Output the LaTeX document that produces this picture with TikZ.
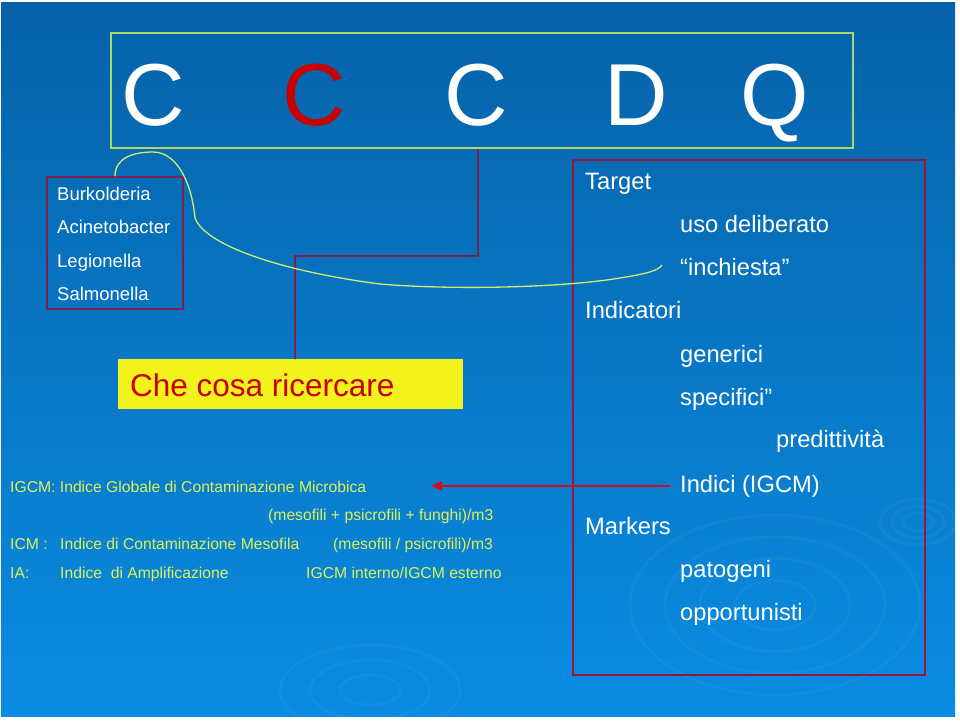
\documentclass[tikz,border=0pt]{standalone}
\usepackage{fontspec}
\setmainfont{Liberation Sans}
\usetikzlibrary{arrows.meta}
\definecolor{bgtop}{RGB}{6,98,168}
\definecolor{bgbot}{RGB}{10,140,226}
\definecolor{frameg}{RGB}{170,215,110}
\definecolor{curveg}{RGB}{205,238,115}
\definecolor{plum}{RGB}{125,32,78}
\definecolor{boxred}{RGB}{150,22,60}
\definecolor{arrred}{RGB}{210,10,30}
\definecolor{lemon}{RGB}{242,242,28}
\definecolor{askred}{RGB}{200,0,0}
\definecolor{lime}{RGB}{222,240,88}
\tikzset{
  txt/.style={inner sep=0pt, anchor=base west, text=white},
  big/.style={inner sep=0pt, anchor=base, text=white, font=\fontsize{88}{88}\selectfont},
  listtxt/.style={txt, font=\fontsize{18.5}{20}\selectfont},
  righttxt/.style={txt, font=\fontsize{23.7}{26}\selectfont},
  idx/.style={txt, text=lime, font=\fontsize{15.7}{17}\selectfont},
  plumbox/.style={draw=plum, line width=1.5pt, inner sep=0pt},
  connector/.style={draw=plum, line width=1.5pt},
  ripple/.style={draw=white, opacity=0.04, line width=3pt}
}
\begin{document}
\begin{tikzpicture}[x=1pt,y=-1pt]
\useasboundingbox (0,0) rectangle (960,720);
\fill[white] (0,0) rectangle (960,720);
\shade[top color=bgtop, bottom color=bgbot] (1,2) rectangle (955,716);
% background ripples
\foreach \r in {40,75,110,145}{
  \draw[ripple] (775,605) ellipse [x radius=\r pt, y radius=0.62*\r pt];
}
\foreach \r in {15,26,38}{
  \draw[ripple] (918,522) ellipse [x radius=\r pt, y radius=0.6*\r pt];
}
\foreach \r in {30,60,90}{
  \draw[ripple] (370,690) ellipse [x radius=\r pt, y radius=0.5*\r pt];
}
% title box
\node[draw=frameg, line width=1.5pt, inner sep=0pt, minimum width=742pt, minimum height=115pt] (title) at (482,90.5) {};
\node[big] (t1) at (153,125) {C};
\node[big, text=askred] (t2) at (314,125) {C};
\node[big] (t3) at (476,125) {C};
\node[big] (t4) at (636,125) {D};
\node[big] (t5) at (775,125) {Q};
% list box
\node[plumbox, minimum width=136pt, minimum height=132pt] (list) at (115,243) {};
\node[listtxt] (l1) at (57,200) {Burkolderia};
\node[listtxt] (l2) at (57,233) {Acinetobacter};
\node[listtxt] (l3) at (57,267) {Legionella};
\node[listtxt] (l4) at (57,300) {Salmonella};
% yellow box
\node[fill=lemon, inner sep=0pt, minimum width=345pt, minimum height=50pt] (ask) at (290.5,384) {};
\node[txt, text=askred, font=\fontsize{31.5}{34}\selectfont] (asktxt) at (130,396) {Che cosa ricercare};
% right box
\node[draw=boxred, line width=1.5pt, inner sep=0pt, minimum width=352pt, minimum height=515pt] (rbox) at (749,417.5) {};
\node[righttxt] (target) at (585,189) {Target};
\node[righttxt] (uso) at (680,232) {uso deliberato};
\node[righttxt] (inch) at (680,275) {“inchiesta”};
\node[righttxt] (indic) at (585,318) {Indicatori};
\node[righttxt] (gen) at (680,362) {generici};
\node[righttxt] (spec) at (680,405) {specifici”};
\node[righttxt] (pred) at (776,447) {predittività};
\node[righttxt] (indici) at (680,492) {Indici (IGCM)};
\node[righttxt] (mark) at (585,534) {Markers};
\node[righttxt] (pat) at (680,577) {patogeni};
\node[righttxt] (opp) at (680,620) {opportunisti};
% index definitions
\node[idx] (igcm) at (10,492) {IGCM: Indice Globale di Contaminazione Microbica};
\node[idx] (igcmf) at (268,520) {(mesofili + psicrofili + funghi)/m3};
\node[idx] (icm) at (10,549) {ICM :};
\node[idx] (icmd) at (60,549) {Indice di Contaminazione Mesofila};
\node[idx] (icmf) at (333,549) {(mesofili / psicrofili)/m3};
\node[idx] (ia) at (10,578) {IA:};
\node[idx] (iad) at (60,578) {Indice\ \ di Amplificazione};
\node[idx] (iaf) at (306,578) {IGCM interno/IGCM esterno};
% connectors
\coordinate (elbow) at (478,256);
\coordinate (drop) at (295,256);
\draw[connector] (title.south -| elbow) -- (elbow) -- (drop) -- (ask.north -| drop);
\coordinate (curveend) at (662,265);
\draw[curveg, line width=1.3pt] (list.north) .. controls (115,158) and (133,152) .. (153,152)
  .. controls (178,152) and (192,185) .. (195,218)
  .. controls (205,245) and (280,271) .. (380,284)
  .. controls (450,290) and (560,288) .. (620,278)
  .. controls (645,274) and (658,271) .. (curveend);
\coordinate (arrtip) at (431,487);
\coordinate (arrstart) at ([xshift=-10pt]indici.west);
\draw[arrred, line width=1.3pt, -{Triangle[length=11pt,width=9pt]}] (arrstart) -- (arrstart -| arrtip);
\end{tikzpicture}
\end{document}
